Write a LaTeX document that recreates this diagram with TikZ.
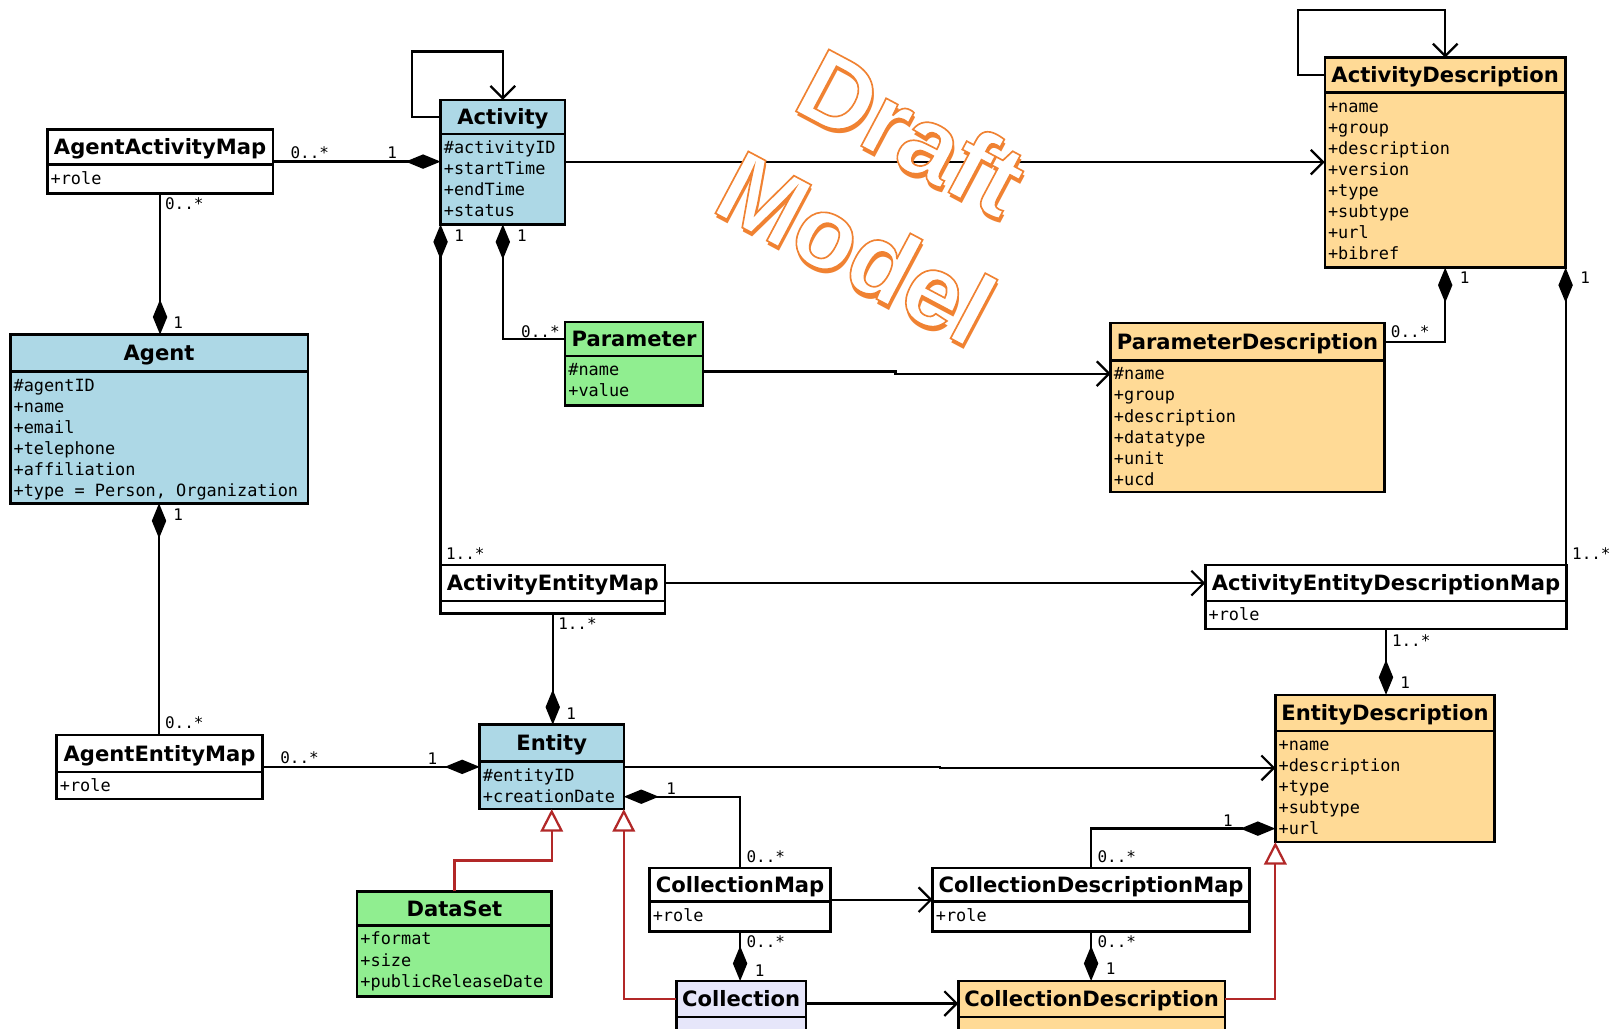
\documentclass[tikz,border=0pt]{standalone}
\usepackage{fontspec}
\newfontfamily\tfont{DejaVu Sans}
\newfontfamily\afont{DejaVu Sans Mono}
\newfontfamily\wfont{Liberation Sans}
\usetikzlibrary{arrows.meta,calc}
\definecolor{cblue}{RGB}{173,216,230}
\definecolor{cgreen}{RGB}{144,238,144}
\definecolor{corange}{RGB}{255,218,150}
\definecolor{clav}{RGB}{230,230,250}
\definecolor{gred}{RGB}{178,40,40}
\definecolor{wmorange}{RGB}{240,130,50}
\tikzset{
  classbox/.style={draw=black, line width=2.4pt, inner sep=0pt, outer sep=0pt, rectangle},
  ctitle/.style={font=\tfont\bfseries\fontsize{20.5}{24}\selectfont, inner sep=0pt, anchor=base},
  cattr/.style={font=\afont\fontsize{16.4}{20}\selectfont, inner sep=0pt, anchor=base west},
  mult/.style={font=\afont\fontsize{15.5}{18}\selectfont, inner sep=0pt},
  conn/.style={line width=2.2pt, draw=black},
  dstart/.style={arrows={{Diamond[length=34pt,width=14pt]}-}},
  dend/.style={arrows={-{Diamond[length=34pt,width=14pt]}}},
  nav/.style={conn, arrows={-{Straight Barb[length=12pt,width=24pt,line width=2.2pt]}}},
  gen/.style={line width=2.2pt, draw=gred, arrows={-{Triangle[open,length=22pt,width=22pt,line width=2.2pt,fill=white]}}},
  wm/.style={font=\wfont\bfseries\fontsize{99}{112}\selectfont, inner sep=0pt, anchor=center},
}
\newcommand\umlclass[8]{%
  \node[classbox, fill=#7, minimum width={(#4)-(#2)}, minimum height={(#5)-(#3)}, anchor=north west] (#1) at (#2,#3) {};
  \draw[line width=2.4pt] (#2,#6) -- (#4,#6);
  \coordinate (#1-hl) at (#2,{((#3)+(#6))/2});
  \coordinate (#1-hr) at (#4,{((#3)+(#6))/2});
  \node[ctitle] (#1-title) at ({((#2)+(#4))/2},{((#3)+(#6))/2+7.5}) {#8};
}
\newcommand\umlattrs[4]{%
  \foreach \t [count=\i] in {#4} {\node[cattr] (#1-a\i) at ({(#2)+3},{(#3)+19+(\i-1)*20.5}) {\t};}
}
\newcommand\wmtext[5]{%
  \node[wm, text=wmorange, rotate=#4, xshift=3.5pt, yshift=-3.5pt] (#1s) at (#2,#3) {#5};
  \node[wm, text=white, rotate=#4] (#1) at (#2,#3)
    {\special{pdf:literal direct 2 Tr 1.6 w 0.941 0.51 0.196 RG}#5\special{pdf:literal direct 0 Tr}};
}
\begin{document}
\begin{tikzpicture}[x=1pt,y=-1pt]
\useasboundingbox (0,0) rectangle (1568,999);
\clip (0,0) rectangle (1568,999);
\fill[white] (0,0) rectangle (1568,999);

% classes
\umlclass{aam}{46}{126}{265}{188}{160}{white}{AgentActivityMap}
\umlattrs{aam}{46}{160}{+role}
\umlclass{act}{428}{97}{549}{218}{130}{cblue}{Activity}
\umlattrs{act}{428}{130}{\#activityID,+startTime,+endTime,+status}
\umlclass{agent}{10}{325}{299}{489}{361}{cblue}{Agent}
\umlattrs{agent}{10}{361}{\#agentID,+name,+email,+telephone,+affiliation,{+type = Person, Organization}}
\umlclass{par}{549}{313}{683}{394}{346}{cgreen}{Parameter}
\umlattrs{par}{549}{346}{\#name,+value}
\umlclass{pd}{1079}{314}{1345}{478}{350}{corange}{ParameterDescription}
\umlattrs{pd}{1079}{350}{\#name,+group,+description,+datatype,+unit,+ucd}
\umlclass{ad}{1287}{56}{1521}{260}{90}{corange}{ActivityDescription}
\umlattrs{ad}{1287}{90}{+name,+group,+description,+version,+type,+subtype,+url,+bibref}
\umlclass{aem}{428}{549}{646}{596}{584}{white}{ActivityEntityMap}
\umlclass{aedm}{1171}{549}{1522}{611}{584}{white}{ActivityEntityDescriptionMap}
\umlattrs{aedm}{1171}{584}{+role}
\umlclass{ed}{1239}{675}{1452}{818}{710}{corange}{EntityDescription}
\umlattrs{ed}{1239}{710}{+name,+description,+type,+subtype,+url}
\umlclass{ent}{466}{704}{606}{786}{740}{cblue}{Entity}
\umlattrs{ent}{466}{740}{\#entityID,+creationDate}
\umlclass{agem}{55}{714}{255}{776}{750}{white}{AgentEntityMap}
\umlattrs{agem}{55}{750}{+role}
\umlclass{ds}{347}{866}{536}{968}{899}{cgreen}{DataSet}
\umlattrs{ds}{347}{899}{+format,+size,+publicReleaseDate}
\umlclass{cm}{631}{843}{807}{905}{876}{white}{CollectionMap}
\umlattrs{cm}{631}{876}{+role}
\umlclass{cdm}{906}{843}{1214}{905}{876}{white}{CollectionDescriptionMap}
\umlattrs{cdm}{906}{876}{+role}
\umlclass{col}{657}{953}{783}{1012}{988}{clav}{Collection}
\umlclass{cd}{931}{953}{1190}{1012}{988}{corange}{CollectionDescription}

% connectors
\draw[nav] (act-hl) -- ++(-28,0) |- ($(act.north)+(0,-47)$) -- (act.north);
\draw[nav] (ad-hl) -- ++(-26,0) |- ($(ad.north)+(0,-46)$) -- (ad.north);
\draw[conn,dend] (aam.east) -- (aam.east -| act.west);
\draw[nav] (act.east) -- (act.east -| ad.west);
\draw[conn,dend] (aam.south) -- (aam.south |- agent.north);
\draw[conn,dstart] (agent.south) -- (agent.south |- agem.north);
\draw[conn,dstart] (act.south west) -- (act.south west |- aem.north);
\draw[conn,dstart] (act.south) |- (par-hl);
\draw[nav] ($(par.north east)+(0,48)$) -- ++(187,0) -- ++(0,2) -- ($(pd.north west)+(0,49)$);
\draw[conn,dend] (pd-hr) -| (ad.south);
\draw[conn,dstart] (ad.south east) -- (ad.south east |- aedm.north);
\draw[nav] (aem-hr) -- (aem-hr -| aedm.west);
\draw[conn,dend] (aem.south) -- (aem.south |- ent.north);
\draw[conn,dend] (aedm.south) -- (aedm.south |- ed.north);
\draw[conn,dend] (agem.east) -- (agem.east -| ent.west);
\draw[nav] (ent.east) -- ++(307,0) -- ++(0,1) -- ($(ed.north west)+(0,71)$);
\draw[conn,dend] (cm.north) |- ($(ent.south east)+(0,-12)$);
\draw[nav] (cm.east) -- (cm.east -| cdm.west);
\draw[conn,dend] (cdm.north) |- ($(ed.south west)+(0,-13)$);
\draw[conn,dend] (cm.south) -- (cm.south |- col.north);
\draw[conn,dend] (cdm.south) -- (cdm.south |- cd.north);
\draw[nav] ($(col.north east)+(0,22)$) -- ($(cd.north west)+(0,22)$);
\draw[gen] (ds.north) -- ++(0,-30) -| (ent.south);
\draw[gen] (col-hl) -| (ent.south east);
\draw[gen] (cd-hr) -| (ed.south west);

% watermark (on top of the connectors)
\wmtext{wdraft}{886}{128}{-28}{Draft}
\wmtext{wmodel}{832}{240}{-28}{Model}

% multiplicities
\node[mult] (m1) at (301,148) {0..*};
\node[mult] (m2) at (381,148) {1};
\node[mult] (m3) at (179,198) {0..*};
\node[mult] (m4) at (173,313) {1};
\node[mult] (m5) at (173,500) {1};
\node[mult] (m6) at (179,702) {0..*};
\node[mult] (m7) at (446,229) {1};
\node[mult] (m8) at (452,538) {1..*};
\node[mult] (m9) at (507,229) {1};
\node[mult] (m10) at (525,322) {0..*};
\node[mult] (m11) at (1370,322) {0..*};
\node[mult] (m12) at (1423,270) {1};
\node[mult] (m13) at (1540,270) {1};
\node[mult] (m14) at (1546,538) {1..*};
\node[mult] (m15) at (561,606) {1..*};
\node[mult] (m16) at (555,693) {1};
\node[mult] (m17) at (1371,622) {1..*};
\node[mult] (m18) at (1365,663) {1};
\node[mult] (m19) at (291,736) {0..*};
\node[mult] (m20) at (420,737) {1};
\node[mult] (m21) at (652,766) {1};
\node[mult] (m22) at (744,832) {0..*};
\node[mult] (m23) at (1193,797) {1};
\node[mult] (m24) at (1085,832) {0..*};
\node[mult] (m25) at (744,915) {0..*};
\node[mult] (m26) at (738,943) {1};
\node[mult] (m27) at (1085,915) {0..*};
\node[mult] (m28) at (1079,941) {1};
\end{tikzpicture}
\end{document}
